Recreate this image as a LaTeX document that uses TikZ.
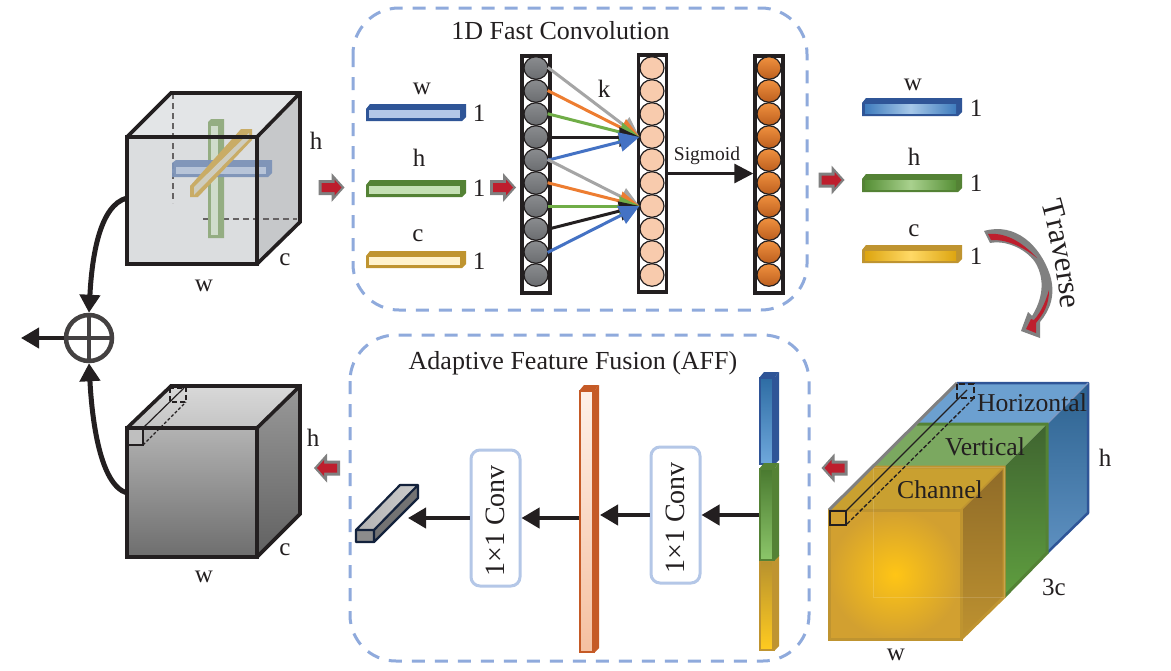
\documentclass[tikz,border=0pt]{standalone}
\usepackage{fontspec}
\setmainfont{Liberation Serif}
\usetikzlibrary{arrows.meta,shapes.geometric,decorations.text,calc}
\newcommand\fs[1]{\fontsize{#1}{#1}\selectfont}
\definecolor{ink}{HTML}{231F20}
\definecolor{boxblue}{HTML}{8FAADC}
\definecolor{convblue}{HTML}{B4C7E7}
\definecolor{bluee}{HTML}{2F5597}
\definecolor{greene}{HTML}{548235}
\definecolor{yelle}{HTML}{BF9430}
\definecolor{orane}{HTML}{C55A26}
\definecolor{redd}{HTML}{BE1E2D}
\definecolor{fgray}{HTML}{A5A5A5}
\definecolor{forange}{HTML}{ED7D31}
\definecolor{fgreen}{HTML}{70AD47}
\definecolor{fblue}{HTML}{4472C4}
\definecolor{peach}{HTML}{F8CBAD}
\definecolor{orgtop}{HTML}{F0913F}
\definecolor{orgbot}{HTML}{BD5F1E}
\definecolor{balltop}{HTML}{8A8C8F}
\definecolor{ballbot}{HTML}{6B6D70}
\tikzset{
  lab/.style={font=\fs{25},inner sep=0pt,text=ink},
  title/.style={font=\fs{26},inner sep=0pt,text=ink},
  dashbox/.style={draw=boxblue,line width=3pt,rounded corners=46pt,dash pattern=on 13pt off 10pt},
  cubeline/.style={draw=ink,line width=3.6pt,line join=miter},
  thin dash/.style={draw=ink!70,line width=1.2pt,dash pattern=on 6pt off 4pt},
  bigarrow/.style={line width=4pt,draw=ink,-{Triangle[length=18pt,width=20pt]}},
  fanarrow/.style={line width=3pt,-{Triangle[length=20pt,width=19pt]},shorten <=-1pt},
  conv/.style={draw=convblue,line width=3pt,rounded corners=9pt,fill=white,minimum width=49pt,minimum height=136pt,inner sep=0pt},
  colbox/.style={draw=ink,line width=3.4pt,minimum width=28pt,minimum height=237pt,inner sep=0pt},
  ball/.style={ellipse,draw=ink,line width=1.2pt,minimum width=24pt,minimum height=22.5pt,inner sep=0pt},
}
\newcommand\blockarrow[3]{%
\begin{scope}[shift={(#1,#2)},xscale=#3]
\fill[gray] (-13,-7.5)--(0,-7.5)--(0,-14.5)--(13,0)--(0,14.5)--(0,7.5)--(-13,7.5)--cycle;
\fill[redd] (-10,-4.5)--(3,-4.5)--(3,-8)--(10,0)--(3,8)--(3,4.5)--(-10,4.5)--cycle;
\end{scope}}
\newcommand\flatbar[6]{% x y height edge innercolours inner-top
\begin{scope}[shift={(#1,#2)}]
\fill[#4] (0,#3)--(0,5)--(4,0)--(100,0)--(100,{#3-4})--(96,#3)--cycle;
\path[#5] (3,#6)--(94,#6)--(94,{#3-3})--(3,{#3-3})--cycle;
\end{scope}}
\newcommand\vseg[6]{% x ytop ybot edge topcol botcol
\fill[#4] ({#1+15},{#2+6})--({#1+20},#2)--({#1+20},{#3-5})--({#1+15},#3)--cycle;
\fill[#4] (#1,{#2+6})--({#1+5},#2)--({#1+20},#2)--({#1+15},{#2+6})--cycle;
\path[draw=#4,line width=2.5pt,top color=#5,bottom color=#6] ({#1+1},{#2+6})rectangle({#1+14.5},{#3-1});
}
\begin{document}
\begin{tikzpicture}[x=1pt,y=-1pt]
\useasboundingbox (0,0) rectangle (1171,670);
\fill[white] (0,0) rectangle (1171,670);

%% ---- upper-left cube
\definecolor{cubeT}{HTML}{E3E5E7}
\definecolor{cubeF}{HTML}{DBDDDF}
\definecolor{cubeR}{HTML}{C6C8CA}
\fill[cubeT] (127,137)--(171,93)--(300,93)--(257,137)--cycle;
\fill[cubeF] (127,137) rectangle (257,264);
\fill[cubeR] (257,137)--(300,93)--(300,222)--(257,264)--cycle;
\draw[thin dash] (173,93)--(173,203);
\draw[thin dash] (203,219)--(297,219);
\definecolor{gbarO}{HTML}{94AD82}
\definecolor{gbarI}{HTML}{D0DCCB}
\definecolor{bbarO}{HTML}{7D93B8}
\definecolor{bbarI}{HTML}{B7C4D8}
\definecolor{ybarO}{HTML}{C9AC66}
\definecolor{ybarI}{HTML}{CFCDBF}
\fill[gbarO] (208,122)--(211,119)--(224,119)--(224,238)--(208,238)--cycle;
\fill[gbarI] (211,126) rectangle (218,235);
\fill[bbarO,fill opacity=.95] (172,163)--(176,160)--(272,160)--(272,173)--(268,177)--(172,177)--cycle;
\fill[bbarI] (176,167) rectangle (266,174);
\fill[ybarO] (190,186)--(241,129)--(252,129)--(252,140)--(198,197)--(190,197)--cycle;
\fill[ybarI] (194,195)--(194,187)--(249,133)--(249,139)--cycle;
\draw[cubeline] (127,137) rectangle (257,264);
\draw[cubeline] (127,137)--(171,93)--(300,93)--(300,222)--(257,264) (257,137)--(300,93);
\node[lab] (topH) at (316,141) {h};
\node[lab] (topC) at (285,260) {c};
\node[lab] (topW) at (204,286) {w};

%% ---- lower-left cube
\path[top color=black!15,bottom color=black!23] (127,428)--(171,386)--(300,386)--(257,428)--cycle;
\path[top color=black!30,bottom color=black!57] (127,428) rectangle (257,557);
\path[top color=black!40,bottom color=black!62] (257,428)--(300,386)--(300,514)--(257,557)--cycle;
\fill[black!25] (127,428) rectangle (143,445);
\draw[cubeline] (127,428) rectangle (257,557);
\draw[cubeline] (127,428)--(171,386)--(300,386)--(300,514)--(257,557) (257,428)--(300,386);
\draw[ink,line width=2.6pt] (127,428) rectangle (143,445);
\draw[ink,line width=2.6pt,dash pattern=on 5pt off 3pt] (170,388) rectangle (186,402);
\draw[ink,line width=1.2pt] (143,428)--(184,388);
\draw[ink,line width=1.2pt,dash pattern=on 3pt off 2pt] (143,445)--(186,402);
\node[lab] (lowH) at (313,438) {h};
\node[lab] (lowC) at (285,550) {c};
\node[lab] (lowW) at (204,577) {w};

%% ---- sum node and its connectors
\node[circle,draw=ink!85,line width=4.5pt,minimum size=46pt,inner sep=0pt] (plus) at (89,338) {};
\draw[ink!85,line width=4pt] (plus.north)--(plus.south) (plus.west)--(plus.east);
\coordinate (cubeTopOut) at (127,198);
\coordinate (cubeLowOut) at (127,493);
\coordinate (sumOut) at (21,338);
\draw[bigarrow,line width=5pt] (cubeTopOut) .. controls (100,205) and (92,255) .. (plus.north);
\draw[bigarrow,line width=5pt] (cubeLowOut) .. controls (100,485) and (92,420) .. (plus.south);
\draw[bigarrow,line width=4pt] (plus.west)--(sumOut);

%% ---- block arrows
\blockarrow{331.5}{187.5}{1}
\blockarrow{503}{187.5}{1}
\blockarrow{831.5}{180}{1}
\blockarrow{834.5}{468}{-1}
\blockarrow{327}{468}{-1}

%% ---- dashed frames
\draw[dashbox] (353,8) rectangle (807,310);
\draw[dashbox] (350,335) rectangle (809,661);
\node[title] (titleA) at (560.5,31) {1D Fast Convolution};
\node[title] (titleB) at (573,363) {Adaptive Feature Fusion (AFF)};

%% ---- 1D bars
\definecolor{gin}{HTML}{C5E0B4}
\definecolor{yin}{HTML}{FFF2CC}
\flatbar{366}{104}{17}{bluee}{fill=convblue}{6}
\flatbar{366}{180}{17}{greene}{fill=gin}{6}
\flatbar{366}{251}{17}{yelle}{fill=yin}{6}
\node[lab] (inW) at (422,89) {w};
\node[lab] (inH) at (419,158) {h};
\node[lab] (inC) at (418,236) {c};
\node[lab] (inA) at (479,113) {1};
\node[lab] (inB) at (479,188) {1};
\node[lab] (inD) at (479,261) {1};

%% ---- three columns of balls
\node[colbox] (colA) at (536,174.5) {};
\node[colbox] (colB) at (652.5,173.5) {};
\node[colbox] (colC) at (769,174.5) {};
\foreach \i in {1,...,10}{
  \pgfmathsetmacro\yy{68+(\i-1)*23}
  \node[ball,top color=balltop,bottom color=ballbot] (a\i) at (536,\yy) {};
  \node[ball,fill=peach] (b\i) at (652,\yy) {};
  \node[ball,top color=orgtop,bottom color=orgbot] (c\i) at (769,\yy) {};
}
\draw[fanarrow,fgray] (a1.east)--(b4.west);
\draw[fanarrow,forange] (a2.east)--(b4.west);
\draw[fanarrow,fgreen] (a3.east)--(b4.west);
\draw[fanarrow,ink] (a4.east)--(b4.west);
\draw[fanarrow,fblue] (a5.east)--(b4.west);
\draw[fanarrow,fgray] (a5.east)--(b7.west);
\draw[fanarrow,forange] (a6.east)--(b7.west);
\draw[fanarrow,fgreen] (a7.east)--(b7.west);
\draw[fanarrow,ink] (a8.east)--(b7.west);
\draw[fanarrow,fblue] (a9.east)--(b7.west);
\draw[line width=3pt,ink,-{Triangle[length=19pt,width=19pt]}] (colB.east)--(colB.east -| colC.west);
\node[lab] (kLab) at (604,89) {k};
\node[font=\fs{19.5},inner sep=0pt,text=ink] (sigLab) at (707,156) {Sigmoid};

%% ---- output bars
\definecolor{obe}{HTML}{3F7CBD}
\definecolor{obm}{HTML}{A6C8E8}
\definecolor{oge}{HTML}{568F36}
\definecolor{ogm}{HTML}{A9D18E}
\definecolor{oye}{HTML}{DDA510}
\definecolor{oym}{HTML}{FFD966}
\flatbar{862}{98}{18}{bluee}{left color=obe,right color=obe,middle color=obm}{6}
\flatbar{862}{174}{18}{greene}{left color=oge,right color=oge,middle color=ogm}{6}
\flatbar{862}{245}{18}{yelle}{left color=oye,right color=oye,middle color=oym}{6}
\node[lab] (outW) at (913,85) {w};
\node[lab] (outH) at (914,157) {h};
\node[lab] (outC) at (914,231) {c};
\node[lab] (outA) at (976,108) {1};
\node[lab] (outB) at (976,183) {1};
\node[lab] (outD) at (976,256) {1};

%% ---- traverse
\fill[gray] (984,231) .. controls (1015,222) and (1040,245) .. (1050,275)
  .. controls (1056,295) and (1050,310) .. (1040,322) -- (1040,338) -- (1021,331) -- (1028,312) -- (1032,316)
  .. controls (1042,300) and (1046,280) .. (1035,262)
  .. controls (1025,248) and (1005,240) .. (990,243) -- cycle;
\fill[redd] (988,234) .. controls (1008,232) and (1025,245) .. (1037,258)
  .. controls (1022,246) and (1005,239) .. (991,240) -- cycle;
\fill[redd] (1049,290) .. controls (1049,305) and (1044,313) .. (1036,323) -- (1036,333) -- (1026,329) -- (1031,319) -- (1034,320)
  .. controls (1042,311) and (1046,300) .. (1049,290) -- cycle;
\coordinate (travA) at (1040,198);
\coordinate (travB) at (1062,314);
\path[decorate,decoration={text along path,text align=center,text={|\fs{31}\color{ink}|Traverse}}]
  (travA) .. controls (1051,235) and (1058,275) .. (travB);

%% ---- stacked block
\definecolor{bltop}{HTML}{6CA0D0}
\definecolor{blr1}{HTML}{2C6290}
\definecolor{blr2}{HTML}{5E90C0}
\definecolor{grtop}{HTML}{7BA860}
\definecolor{grr1}{HTML}{3F6430}
\definecolor{grr2}{HTML}{5F9E3F}
\definecolor{yetop}{HTML}{C9A030}
\definecolor{yer1}{HTML}{8F6B28}
\definecolor{yer2}{HTML}{BE9230}
\definecolor{yefc}{HTML}{FFC515}
\definecolor{yefo}{HTML}{D2A030}
\fill[bltop] (917,424)--(957,383)--(1088,383)--(1047,424)--cycle;
\path[top color=blr1,bottom color=blr2] (1047,424)--(1088,383)--(1088,513)--(1047,553)--cycle;
\draw[bluee,line width=2.5pt,line join=round] (957,383)--(1088,383)--(1088,513)--(1047,553);
\draw[bluee!60!white,line width=1.2pt] (1047,424)--(1088,383);
\fill[grtop] (873,467)--(917,424)--(1047,424)--(1004,467)--cycle;
\path[top color=grr1,bottom color=grr2] (1004,467)--(1047,424)--(1047,553)--(1004,597)--cycle;
\draw[greene,line width=3pt] (917,424)--(1047,424)--(1047,553)--(1004,597);
\fill[yetop] (829,510)--(873,467)--(1004,467)--(961,510)--cycle;
\path[top color=yer1,bottom color=yer2] (961,510)--(1004,467)--(1004,597)--(961,639)--cycle;
\draw[yelle,line width=3pt] (873,467)--(1004,467)--(1004,597)--(961,639);
\draw[yelle,line width=1.5pt] (961,510)--(1004,467);
\path[inner color=yefc,outer color=yefo] (829,510) rectangle (961,639);
\draw[yelle,line width=3pt] (829,510) rectangle (961,639);
\draw[white,opacity=.15] (873,467) rectangle (1004,597);
\draw[gray,line width=3pt] (829,510)--(957,383);
\draw[ink,line width=2.8pt] (830,511) rectangle (846,525);
\draw[ink,line width=2.8pt,dash pattern=on 6pt off 3pt] (957,384) rectangle (974,398);
\draw[ink,line width=1.3pt] (846,511)--(967,390);
\draw[ink,line width=1.3pt,dash pattern=on 4pt off 2pt] (847,524)--(974,398);
\node[font=\fs{25.7},inner sep=0pt,text=ink] (horiz) at (1032,403) {Horizontal};
\node[font=\fs{25.7},inner sep=0pt,text=ink] (vert) at (985,447) {Vertical};
\node[font=\fs{25.7},inner sep=0pt,text=ink] (chan) at (940,490) {Channel};
\node[lab] (bigH) at (1105,458) {h};
\node[lab] (big3) at (1054,587) {3c};
\node[lab] (bigW) at (896,655) {w};

%% ---- AFF contents
\definecolor{ortop}{HTML}{FDF0E8}
\definecolor{orbot}{HTML}{F5C0A0}
\definecolor{st1}{HTML}{2E6DA4}
\definecolor{st2}{HTML}{6FA8DC}
\definecolor{st3}{HTML}{4A7A30}
\definecolor{st4}{HTML}{8CC66A}
\definecolor{st5}{HTML}{B8922E}
\definecolor{st6}{HTML}{FFCB20}
\vseg{579}{385}{653}{orane}{ortop}{orbot}
\vseg{759}{372}{465}{bluee}{st1}{st2}
\vseg{759}{555}{651}{yelle}{st5}{st6}
\vseg{759}{463}{561}{greene}{st3}{st4}
\fill[black!55] (374,530)--(418,485)--(418,498)--(374,542)--cycle;
\path[left color=black!30,right color=black!20] (356,530)--(400,485)--(418,485)--(374,530)--cycle;
\fill[black!45] (356,530) rectangle (374,542);
\draw[bluee!40!black,line width=2.2pt,line join=round] (356,530)--(400,485)--(418,485)--(418,498)--(374,542)--(356,542)--cycle (356,530)--(374,530)--(418,485) (374,530)--(374,542);

\node[conv] (convA) at (675.5,515) {};
\node[conv] (convB) at (495.5,518) {};
\node[font=\fs{28},inner sep=0pt,text=ink,rotate=90] (convAt) at ([yshift=-3pt]convA.center) {1×1 Conv};
\node[font=\fs{28},inner sep=0pt,text=ink,rotate=90] (convBt) at ([yshift=-3pt]convB.center) {1×1 Conv};
\coordinate (stackL) at (759,515);
\coordinate (orangeR) at (600,515);
\coordinate (orangeL) at (579,518);
\coordinate (greyEnd) at (408,518);
\draw[bigarrow] (stackL)--(convA.east);
\draw[bigarrow] (convA.west)--(orangeR);
\draw[bigarrow] (orangeL)--(convB.east);
\draw[bigarrow] (convB.west)--(greyEnd);
\end{tikzpicture}
\end{document}
